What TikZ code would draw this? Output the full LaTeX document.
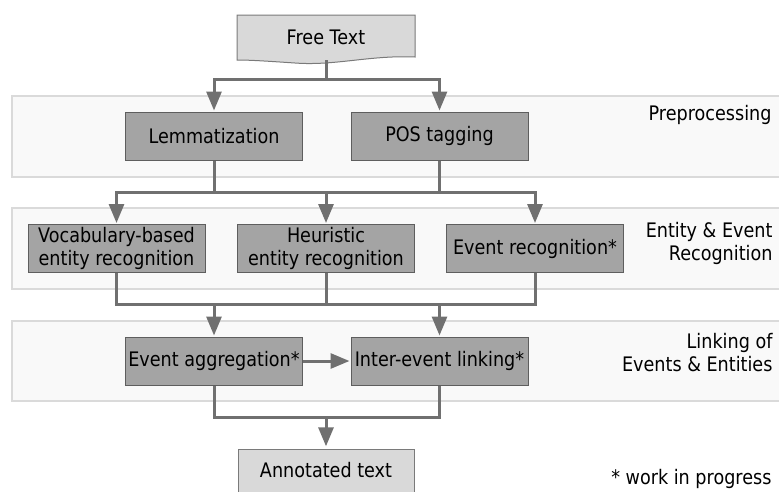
\documentclass[tikz,border=0pt]{standalone}
\usepackage{fontspec}
\setmainfont{DejaVu Sans}[FakeStretch=0.88]
\usetikzlibrary{arrows.meta}
\definecolor{bandfill}{HTML}{F9F9F9}
\definecolor{bandline}{HTML}{DADADA}
\definecolor{boxfill}{HTML}{A4A4A4}
\definecolor{boxline}{HTML}{5E5E5E}
\definecolor{docfill}{HTML}{D9D9D9}
\definecolor{docline}{HTML}{7A7A7A}
\definecolor{conn}{HTML}{707070}
\tikzset{
  band/.style={fill=bandfill, draw=bandline, line width=1.2pt},
  procbox/.style={rectangle, fill=boxfill, draw=boxline, line width=1pt, minimum width=177pt, minimum height=48pt, inner sep=0pt, align=center, text=black},
  docbox/.style={rectangle, minimum width=178pt, minimum height=45pt, inner sep=0pt, align=center, text=black},
  docshape/.style={fill=docfill, draw=docline, line width=1pt},
  wire/.style={draw=conn, line width=3pt},
  arr/.style={wire, -{Triangle[width=15pt,length=19pt]}, shorten >=1pt},
  phase/.style={align=right, text=black, font=\fontsize{20}{23}\selectfont},
}
\begin{document}
\begin{tikzpicture}[x=1pt, y=-1pt, font=\fontsize{20}{22.5}\selectfont]
\useasboundingbox (0,0) rectangle (779,491);
% bands
\draw[band] (12,96) rectangle (790,177);
\draw[band] (12,208) rectangle (790,289);
\draw[band] (12,321) rectangle (790,401);
% phase labels
\node[phase, anchor=base east] (lp) at (775,120) {Preprocessing};
\node[phase, anchor=north east] (le) at (776,219) {Entity \& Event\\Recognition};
\node[phase, anchor=north east] (ll) at (776,330) {Linking of\\Events \& Entities};
\node[phase, anchor=base east] (lw) at (775,484) {* work in progress};
% document shapes
\draw[docshape] (237,15) -- (415,15) -- (415,57)
  .. controls (370,55) and (335,66) .. (295,63)
  .. controls (265,61) and (250,60) .. (237,60) -- cycle;
\node[docbox] (free) at (326,37) {Free Text};
\draw[docshape] (238,449) -- (414,449) -- (414,500) -- (238,500) -- cycle;
\node[docbox] (ann) at (326,470) {Annotated text};
% process boxes
\node[procbox] (lem) at (214,136) {Lemmatization};
\node[procbox] (pos) at (439.5,136) {POS tagging};
\node[procbox] (voc) at (116.5,248.5) {Vocabulary-based\\entity recognition};
\node[procbox] (heu) at (326,248.5) {Heuristic\\entity recognition};
\node[procbox] (evr) at (535,248.5) {Event recognition*};
\node[procbox] (agg) at (214,361) {Event aggregation*};
\node[procbox] (lnk) at (439.5,361) {Inter-event linking*};
% junctions
\coordinate (j1) at (326,79);
\coordinate (j2) at (326,192);
\coordinate (j3) at (326,304);
\coordinate (j4) at (326,417);
% connectors
\draw[wire] (326,60) -- (j1);
\draw[arr] (j1) -| (lem.north);
\draw[arr] (j1) -| (pos.north);
\draw[wire] (lem.south) |- (j2);
\draw[wire] (pos.south) |- (j2);
\draw[arr] (j2) -| (voc.north);
\draw[arr] (j2) -- (heu.north);
\draw[arr] (j2) -| (evr.north);
\draw[wire] (voc.south) |- (j3);
\draw[wire] (heu.south) -- (j3);
\draw[wire] (evr.south) |- (j3);
\draw[arr] (j3) -| (agg.north);
\draw[arr] (j3) -| (lnk.north);
\draw[arr] (agg.east) -- (lnk.west);
\draw[wire] (agg.south) |- (j4);
\draw[wire] (lnk.south) |- (j4);
\draw[arr] (j4) -- (ann.north);
\end{tikzpicture}
\end{document}
